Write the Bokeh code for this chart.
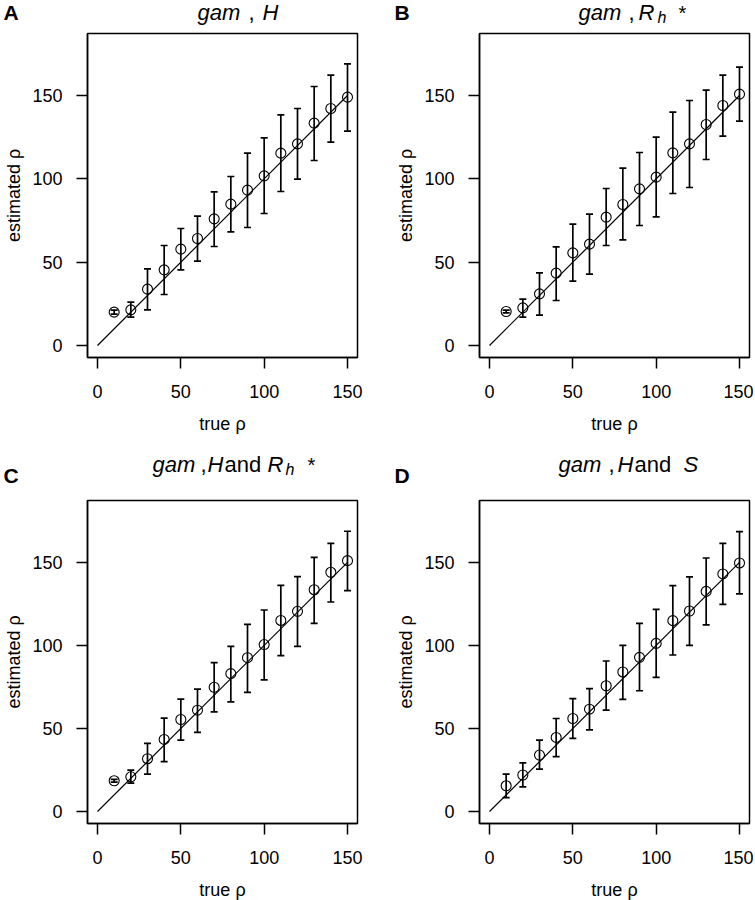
from bokeh.plotting import figure
from bokeh.models import (ColumnDataSource, Whisker, TeeHead, Range1d,
                          FixedTicker)
from bokeh.core.properties import value
from bokeh.layouts import column, row
from bokeh.embed import file_html
from bokeh.resources import INLINE

# ---------------- data ----------------
true_rho = [10, 20, 30, 40, 50, 60, 70, 80, 90, 100, 110, 120, 130, 140, 150]

a_est = [20, 21.4, 33.8, 45.4, 57.8, 64.2, 76, 84.8, 93.2, 101.8, 115.4, 121, 133.4, 142.2, 149]
a_hi = [21.2, 26, 46, 60, 70.2, 77.6, 92.2, 101.4, 115.4, 124.6, 138.4, 142.2, 155.4, 162.2, 169]
a_lo = [18.8, 17, 21.4, 30.6, 45.4, 50.6, 59.4, 68.2, 70.8, 79.2, 92.4, 99.8, 111, 122, 128.6]

b_est = [20.4, 22.6, 31, 43.4, 55.6, 60.8, 77, 84.6, 94, 101, 115.6, 121, 132.6, 144, 150.8]
b_hi = [21.2, 27.8, 43.6, 59.2, 72.8, 78.8, 94.2, 106.4, 115.8, 125, 140, 147, 153.2, 162.2, 167]
b_lo = [19.6, 17, 18.2, 27, 38.6, 42.8, 60, 63.4, 72, 77.2, 91.2, 94.8, 111.6, 125.6, 134.6]

c_est = [18.5, 20.9, 31.8, 43.4, 55.4, 61, 74.8, 83, 92.6, 100.5, 115, 120.5, 133.5, 144, 151]
c_hi = [19.3, 24.9, 41, 56.2, 67.7, 73.7, 89.6, 99.4, 112.7, 121.3, 136.1, 141.4, 153, 161.4, 168.7]
c_lo = [17.7, 17.1, 22.5, 30.1, 43, 47.6, 60, 66, 71.7, 79.3, 93.8, 99.4, 113.3, 126.1, 133]

d_est = [15.5, 22, 34, 44.6, 56, 61.6, 75.7, 84, 92.8, 101.2, 114.9, 120.7, 132.5, 143, 149.6]
d_hi = [22.5, 29.3, 43, 56, 67.9, 74, 90.6, 100, 113.3, 121.7, 136, 141.2, 152.6, 161.4, 168.5]
d_lo = [8.4, 14.9, 25.5, 33, 44, 49.2, 61, 67.5, 72.7, 80.7, 94.2, 100, 112.4, 124.7, 131]

ref_line = [0, 150]
x_ticks = [0, 50, 100, 150]
y_ticks = [0, 50, 100, 150]
x_label = "true ρ"
y_label = "estimated ρ"
letters = ["A", "B", "C", "D"]

# title pieces: (text, italic?, size px, x offset from frame left, baseline shift px)
titles = [
    [("gam", True, 22, 110, 0), (",", False, 22, 161, 0), ("H", True, 22, 175, 0)],
    [("gam", True, 22, 99, 0), (",", False, 22, 149, 0), ("R", True, 22, 159, 0),
     ("h", True, 16, 178, 5), ("*", False, 20, 199, 0)],
    [("gam", True, 22, 65, 0), (",", False, 22, 113, 0), ("H", True, 22, 120, 0),
     ("and", False, 22, 137, 0), ("R", True, 22, 180, 0), ("h", True, 16, 198, 5),
     ("*", False, 20, 220, 0)],
    [("gam", True, 22, 79, 0), (",", False, 22, 129, 0), ("H", True, 22, 138, 0),
     ("and", False, 22, 155, 0), ("S", True, 22, 204, 0)],
]

X_LO, X_HI = -6, 156
Y_LO, Y_HI = -7.2, 187.2
FONT = "Liberation Sans"

# layout (pixels)
LEFT_W, RIGHT_W = 383, 370
LEFT_BL, RIGHT_BL = 87, 96
FRAME_W = 270
TOP_HEAD, BOT_HEAD = 30, 57
TOP_FH, BOT_FH = 324, 323
TOP_BB, BOT_BB = 83, 74
BASE_FIX = 8          # renderer places alphabetic baselines this much lower
TITLE_BASE = [20 - BASE_FIX, 32 - BASE_FIX]
LETTER_BASE = [20 - BASE_FIX, 43 - BASE_FIX]
LETTER_X = [3, 11]


def make_header(idx, left_col, top_row):
    w = LEFT_W if left_col else RIGHT_W
    h = TOP_HEAD if top_row else BOT_HEAD
    bl = LEFT_BL if left_col else RIGHT_BL
    r = 0 if top_row else 1
    c = 0 if left_col else 1
    hp = figure(width=w, height=h, min_border=0, title=None,
                x_range=Range1d(0, w), y_range=Range1d(h, 0),
                x_axis_location=None, y_axis_location=None,
                output_backend="svg", toolbar_location=None, tools="")
    hp.xgrid.visible = False
    hp.ygrid.visible = False
    hp.outline_line_color = None
    hp.background_fill_color = "white"
    hp.border_fill_color = "white"
    hp.text(x=[LETTER_X[c]], y=[LETTER_BASE[r]], text=[letters[idx]],
            text_font=value(FONT), text_font_size="21px", text_font_style="bold",
            text_color="black", text_baseline="alphabetic", text_align="left")
    for txt, ital, size, dx, dy in titles[idx]:
        hp.text(x=[bl + dx], y=[TITLE_BASE[r] + dy], text=[txt],
                text_font=value(FONT), text_font_size=f"{size}px",
                text_font_style="italic" if ital else "normal",
                text_color="black", text_baseline="alphabetic", text_align="left")
    return hp


def make_panel(est, lo, hi, left_col, top_row):
    bl = LEFT_BL if left_col else RIGHT_BL
    w = LEFT_W if left_col else RIGHT_W
    br = w - bl - FRAME_W
    fh = TOP_FH if top_row else BOT_FH
    bb = TOP_BB if top_row else BOT_BB
    p = figure(frame_width=FRAME_W, frame_height=fh, title=None,
               min_border_left=bl, min_border_right=br,
               min_border_top=3, min_border_bottom=bb,
               x_range=Range1d(X_LO, X_HI), y_range=Range1d(Y_LO, Y_HI),
               output_backend="svg", toolbar_location=None, tools="")
    p.xgrid.visible = False
    p.ygrid.visible = False
    p.outline_line_color = "black"
    p.outline_line_width = 1.5
    p.outline_line_alpha = 1.0
    p.background_fill_color = "white"
    p.border_fill_color = "white"

    for ax, ticks in ((p.xaxis[0], x_ticks), (p.yaxis[0], y_ticks)):
        ax.ticker = FixedTicker(ticks=ticks, minor_ticks=[])
        ax.axis_line_color = "black"
        ax.axis_line_width = 1.5
        ax.major_tick_line_color = "black"
        ax.major_tick_line_width = 1.5
        ax.major_tick_out = 11
        ax.major_tick_in = 0
        ax.minor_tick_line_color = None
        ax.major_label_text_font = FONT
        ax.major_label_text_font_size = "18px"
        ax.major_label_text_color = "black"
        ax.axis_label_text_font = FONT
        ax.axis_label_text_font_size = "18px"
        ax.axis_label_text_font_style = "normal"
        ax.axis_label_text_color = "black"
    p.xaxis[0].axis_label = x_label
    p.yaxis[0].axis_label = y_label
    p.xaxis[0].major_label_standoff = 16
    p.xaxis[0].axis_label_standoff = 13
    p.yaxis[0].major_label_standoff = 14
    p.yaxis[0].axis_label_standoff = 5

    p.line(ref_line, ref_line, line_color="black", line_width=1.2)

    src = ColumnDataSource(dict(x=true_rho, y=est, lower=lo, upper=hi))
    p.add_layout(Whisker(source=src, base="x", upper="upper", lower="lower",
                         line_color="black", line_width=1.7,
                         upper_head=TeeHead(size=7, line_width=1.7, line_color="black"),
                         lower_head=TeeHead(size=7, line_width=1.7, line_color="black")))
    p.scatter("x", "y", source=src, marker="circle", size=10,
              fill_color=None, line_color="black", line_width=1.1)
    return p


hA = make_header(0, True, True)
hB = make_header(1, False, True)
hC = make_header(2, True, False)
hD = make_header(3, False, False)
pA = make_panel(a_est, a_lo, a_hi, True, True)
pB = make_panel(b_est, b_lo, b_hi, False, True)
pC = make_panel(c_est, c_lo, c_hi, True, False)
pD = make_panel(d_est, d_lo, d_hi, False, False)

layout = column(row(hA, hB), row(pA, pB), row(hC, hD), row(pC, pD))
open("out.html", "w").write(file_html(layout, INLINE))
